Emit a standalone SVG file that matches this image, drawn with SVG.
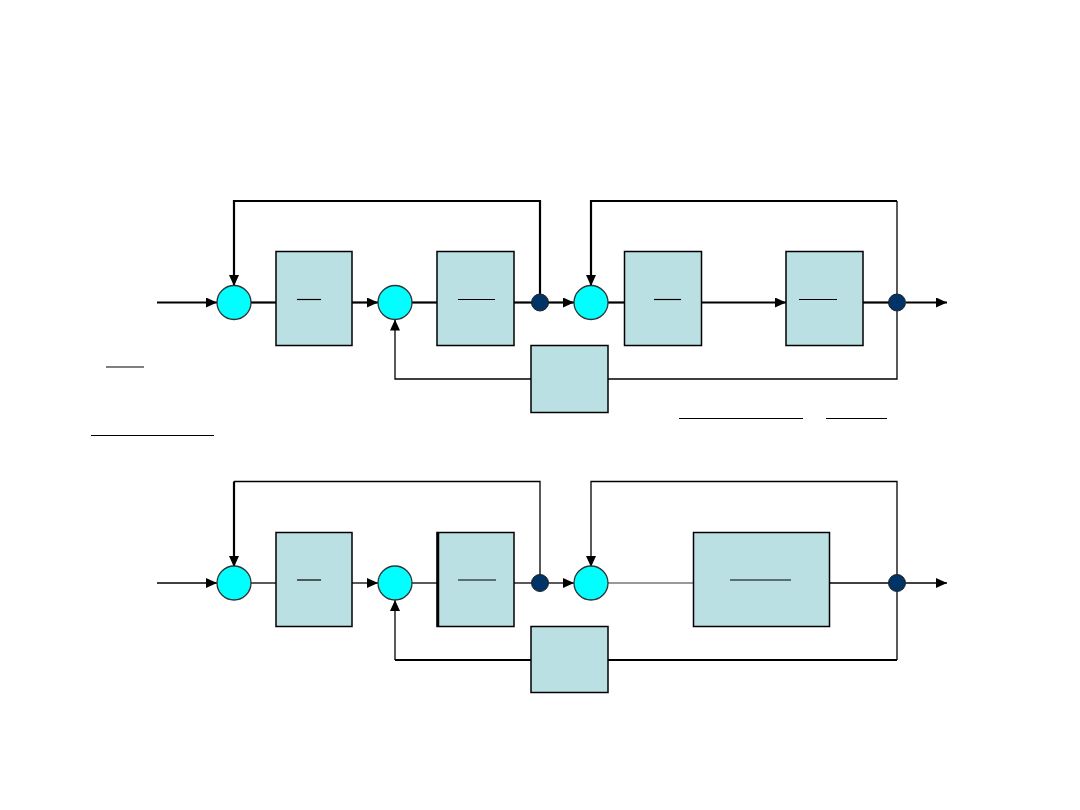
<svg xmlns="http://www.w3.org/2000/svg" width="1080" height="810" viewBox="0 0 1080 810">
<style>
.blk{fill:#BBE0E3;stroke:#000;stroke-width:1.5}
.sum{fill:#00FFFF;stroke:#333;stroke-width:1.3}
.dot{fill:#003366;stroke:#222;stroke-width:1}
.w{fill:none;stroke:#000;stroke-width:1.3}
.t{fill:none;stroke:#000;stroke-width:2.2}
.fr{stroke:#000;stroke-width:1.2}
</style>
<defs>
<marker id="ah" markerUnits="userSpaceOnUse" markerWidth="12" markerHeight="10" refX="11" refY="5" orient="auto">
<path d="M0,0 L11,5 L0,10 Z" fill="#000"/>
</marker>
</defs>
<rect width="1080" height="810" fill="#fff"/>

<g id="connectors">
<!-- top diagram -->
<path class="t" d="M157,302.5 H217" marker-end="url(#ah)"/>
<path class="t" d="M251,302.5 H276"/>
<path class="t" d="M352,302.5 H378" marker-end="url(#ah)"/>
<path class="t" d="M412,302.5 H437"/>
<path class="t" d="M514,302.5 H532"/>
<path class="t" d="M548,302.5 H574" marker-end="url(#ah)"/>
<path class="t" d="M540,294 V201 H234 V286" marker-end="url(#ah)"/>
<path class="w" d="M531,379 H395 V319.5" marker-end="url(#ah)"/>
<path class="t" d="M608,302.5 H624"/>
<path class="t" d="M702,302.5 H786" marker-end="url(#ah)"/>
<path class="t" d="M863,302.5 H889"/>
<path class="t" d="M906,302.5 H947" marker-end="url(#ah)"/>
<path class="w" d="M897,294 V201"/>
<path class="t" d="M897,201 H591 V286" marker-end="url(#ah)"/>
<path class="w" d="M897,311 V379 H608"/>

<!-- bottom diagram -->
<path class="w" d="M157,583 H217" marker-end="url(#ah)"/>
<path class="w" d="M251,583 H276"/>
<path class="w" d="M352,583 H378" marker-end="url(#ah)"/>
<path class="w" d="M412,583 H437"/>
<path class="w" d="M514,583 H532"/>
<path class="w" d="M548,583 H574" marker-end="url(#ah)"/>
<path class="w" d="M540,575 V481.5 H234"/>
<path class="t" d="M234,481.5 V567" marker-end="url(#ah)"/>
<path class="t" d="M531,660 H395"/>
<path class="w" d="M395,660 V600" marker-end="url(#ah)"/>
<path d="M608,583 H693" fill="none" stroke="#777" stroke-width="1.3"/>
<path class="w" d="M829,583 H889"/>
<path class="w" d="M906,583 H947" marker-end="url(#ah)"/>
<path class="w" d="M897,575 V481.5 H591 V567" marker-end="url(#ah)"/>
<path class="w" d="M897,592 V660"/>
<path class="t" d="M897,660 H608"/>
</g>

<g id="top-sum1"><circle class="sum" cx="234" cy="302.5" r="17"/></g>
<g id="top-block1"><rect class="blk" x="276" y="251.5" width="76" height="94"/><line class="fr" x1="297" y1="299.5" x2="321" y2="299.5"/></g>
<g id="top-sum2"><circle class="sum" cx="395" cy="302.5" r="17"/></g>
<g id="top-block2"><rect class="blk" x="437" y="251.5" width="77" height="94"/><line class="fr" x1="458" y1="299.5" x2="495" y2="299.5"/></g>
<g id="top-dot1"><circle class="dot" cx="540" cy="302.5" r="8.5"/></g>
<g id="top-sum3"><circle class="sum" cx="591" cy="302.5" r="17"/></g>
<g id="top-block3"><rect class="blk" x="624.5" y="251.5" width="77" height="94"/><line class="fr" x1="654" y1="299.5" x2="681" y2="299.5"/></g>
<g id="top-block4"><rect class="blk" x="786" y="251.5" width="77" height="94"/><line class="fr" x1="799" y1="299.5" x2="837" y2="299.5"/></g>
<g id="top-dot2"><circle class="dot" cx="897" cy="302.5" r="8.5"/></g>
<g id="top-fb"><rect class="blk" x="531" y="345.5" width="77" height="67"/></g>

<g id="fractions">
<line class="fr" x1="106" y1="367" x2="144" y2="367"/>
<line class="fr" x1="91" y1="435.5" x2="214" y2="435.5"/>
<line class="fr" x1="679" y1="418.5" x2="803" y2="418.5"/>
<line class="fr" x1="826" y1="418.5" x2="887" y2="418.5"/>
</g>

<g id="bot-sum1"><circle class="sum" cx="234" cy="583" r="17"/></g>
<g id="bot-block1"><rect class="blk" x="276" y="532.5" width="76" height="94"/><line class="fr" x1="297" y1="580" x2="321" y2="580"/></g>
<g id="bot-sum2"><circle class="sum" cx="395" cy="583" r="17"/></g>
<g id="bot-block2"><rect class="blk" x="437" y="532.5" width="77" height="94"/><line x1="438" y1="532.5" x2="438" y2="626.5" stroke="#000" stroke-width="2.5"/><line class="fr" x1="458" y1="580" x2="496" y2="580"/></g>
<g id="bot-dot1"><circle class="dot" cx="540" cy="583" r="8.5"/></g>
<g id="bot-sum3"><circle class="sum" cx="591" cy="583" r="17"/></g>
<g id="bot-block3"><rect class="blk" x="693.5" y="532.5" width="136" height="94"/><line class="fr" x1="730" y1="580" x2="791" y2="580"/></g>
<g id="bot-dot2"><circle class="dot" cx="897" cy="583" r="8.5"/></g>
<g id="bot-fb"><rect class="blk" x="531" y="626.5" width="77" height="66"/></g>
</svg>
